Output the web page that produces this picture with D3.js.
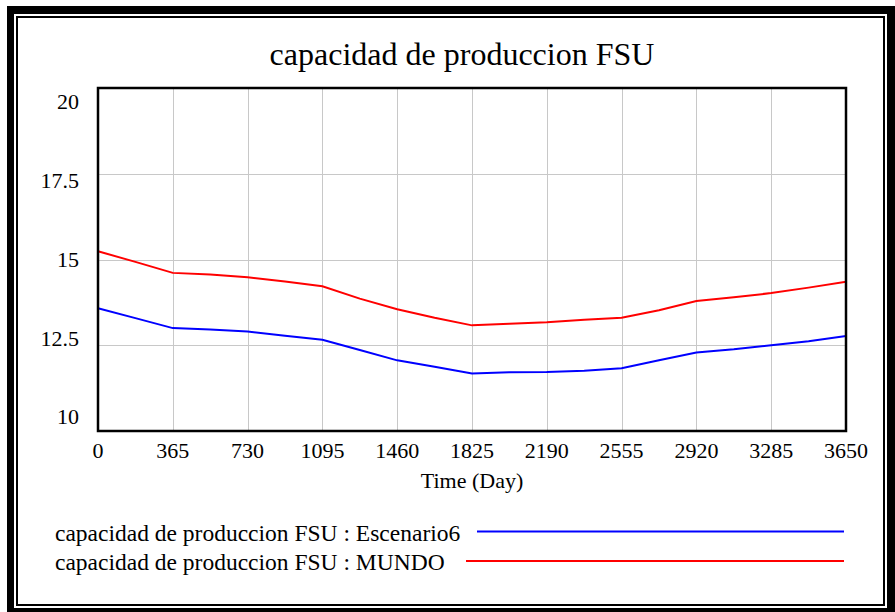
<!DOCTYPE html>
<html>
<head>
<meta charset="utf-8">
<script src="https://cdn.jsdelivr.net/npm/d3@7"></script>
<style>
  html, body { margin: 0; padding: 0; background: #fff; }
  svg { display: block; }
  text { font-family: "Liberation Serif", "Times New Roman", serif; fill: #000; }
</style>
</head>
<body>
<svg id="chart" width="895" height="612"></svg>
<script>
// ---- data ----
const title = "capacidad de produccion FSU";
const xLabel = "Time (Day)";
const times = [0, 182.5, 365, 547.5, 730, 912.5, 1095, 1277.5, 1460, 1642.5, 1825,
               2007.5, 2190, 2372.5, 2555, 2737.5, 2920, 3102.5, 3285, 3467.5, 3650];
const escenario6 = [13.58, 13.29, 13.00, 12.96, 12.90, 12.78, 12.66, 12.36, 12.06, 11.87, 11.68,
                    11.71, 11.72, 11.76, 11.83, 12.06, 12.29, 12.38, 12.50, 12.62, 12.77];
const mundo = [15.24, 14.93, 14.61, 14.56, 14.48, 14.36, 14.22, 13.86, 13.55, 13.30, 13.08,
               13.13, 13.17, 13.24, 13.30, 13.52, 13.79, 13.90, 14.02, 14.18, 14.35];
const xTicks = [0, 365, 730, 1095, 1460, 1825, 2190, 2555, 2920, 3285, 3650];
const yTicks = [10, 12.5, 15, 17.5, 20];
const seriesNames = ["capacidad de produccion FSU : Escenario6", "capacidad de produccion FSU : MUNDO"];
const seriesColors = ["#0000ff", "#ff0000"];

// ---- drawing ----
const svg = d3.select("#chart");

// outer double frame
svg.append("rect").attr("x", 7).attr("y", 6).attr("width", 895).attr("height", 620).attr("fill", "#000");
svg.append("rect").attr("x", 14).attr("y", 14).attr("width", 873).attr("height", 594).attr("fill", "#fff");
svg.append("rect").attr("x", 17).attr("y", 17).attr("width", 867).attr("height", 588)
  .attr("fill", "#fff").attr("stroke", "#000").attr("stroke-width", 2);

const pLeft = 98, pRight = 846, pTop = 88, pBottom = 431;
const x = d3.scaleLinear().domain([0, 3650]).range([pLeft, pRight]);
const y = d3.scaleLinear().domain([10, 20]).range([pBottom, pTop]);
const yLab = d3.scaleLinear().domain([10, 20]).range([417, 102]);

// title
svg.append("text").attr("x", 462).attr("y", 65).attr("text-anchor", "middle")
  .style("font-size", "32px").text(title);

// grid
const grid = svg.append("g").attr("stroke", "#c8c8c8").attr("stroke-width", 1);
grid.selectAll("line.v").data(xTicks.slice(1, -1)).enter().append("line")
  .attr("x1", d => Math.round(x(d)) + 0.5).attr("x2", d => Math.round(x(d)) + 0.5)
  .attr("y1", pTop).attr("y2", pBottom);
grid.selectAll("line.h").data(yTicks.slice(1, -1)).enter().append("line")
  .attr("y1", d => Math.round(y(d)) + 0.5).attr("y2", d => Math.round(y(d)) + 0.5)
  .attr("x1", pLeft).attr("x2", pRight);

// series
const line = d3.line().x((d, i) => x(times[i])).y(d => y(d));
[escenario6, mundo].forEach((s, k) => {
  svg.append("path").datum(s).attr("d", line).attr("fill", "none")
    .attr("stroke", seriesColors[k]).attr("stroke-width", 2);
});

// frame
svg.append("rect").attr("x", pLeft).attr("y", pTop).attr("width", pRight - pLeft).attr("height", pBottom - pTop)
  .attr("fill", "none").attr("stroke", "#000").attr("stroke-width", 2.5);

// x tick labels
svg.selectAll("text.xt").data(xTicks).enter().append("text")
  .attr("x", d => x(d)).attr("y", 458).attr("text-anchor", "middle")
  .style("font-size", "22px").text(d => d);

// y tick labels
svg.selectAll("text.yt").data(yTicks).enter().append("text")
  .attr("x", 79).attr("y", d => yLab(d)).attr("dy", "0.33em").attr("text-anchor", "end")
  .style("font-size", "22px").text(d => d);

// x axis title
svg.append("text").attr("x", 472).attr("y", 488).attr("text-anchor", "middle")
  .style("font-size", "22px").text(xLabel);

// legend
const legY = [531.5, 561];
const legLineX0 = [477, 466];
seriesNames.forEach((n, k) => {
  svg.append("text").attr("x", 55).attr("y", legY[k] + 9).style("font-size", "23.5px").text(n);
  svg.append("line").attr("x1", legLineX0[k]).attr("x2", 844).attr("y1", legY[k]).attr("y2", legY[k])
    .attr("stroke", seriesColors[k]).attr("stroke-width", 2);
});
</script>
</body>
</html>
